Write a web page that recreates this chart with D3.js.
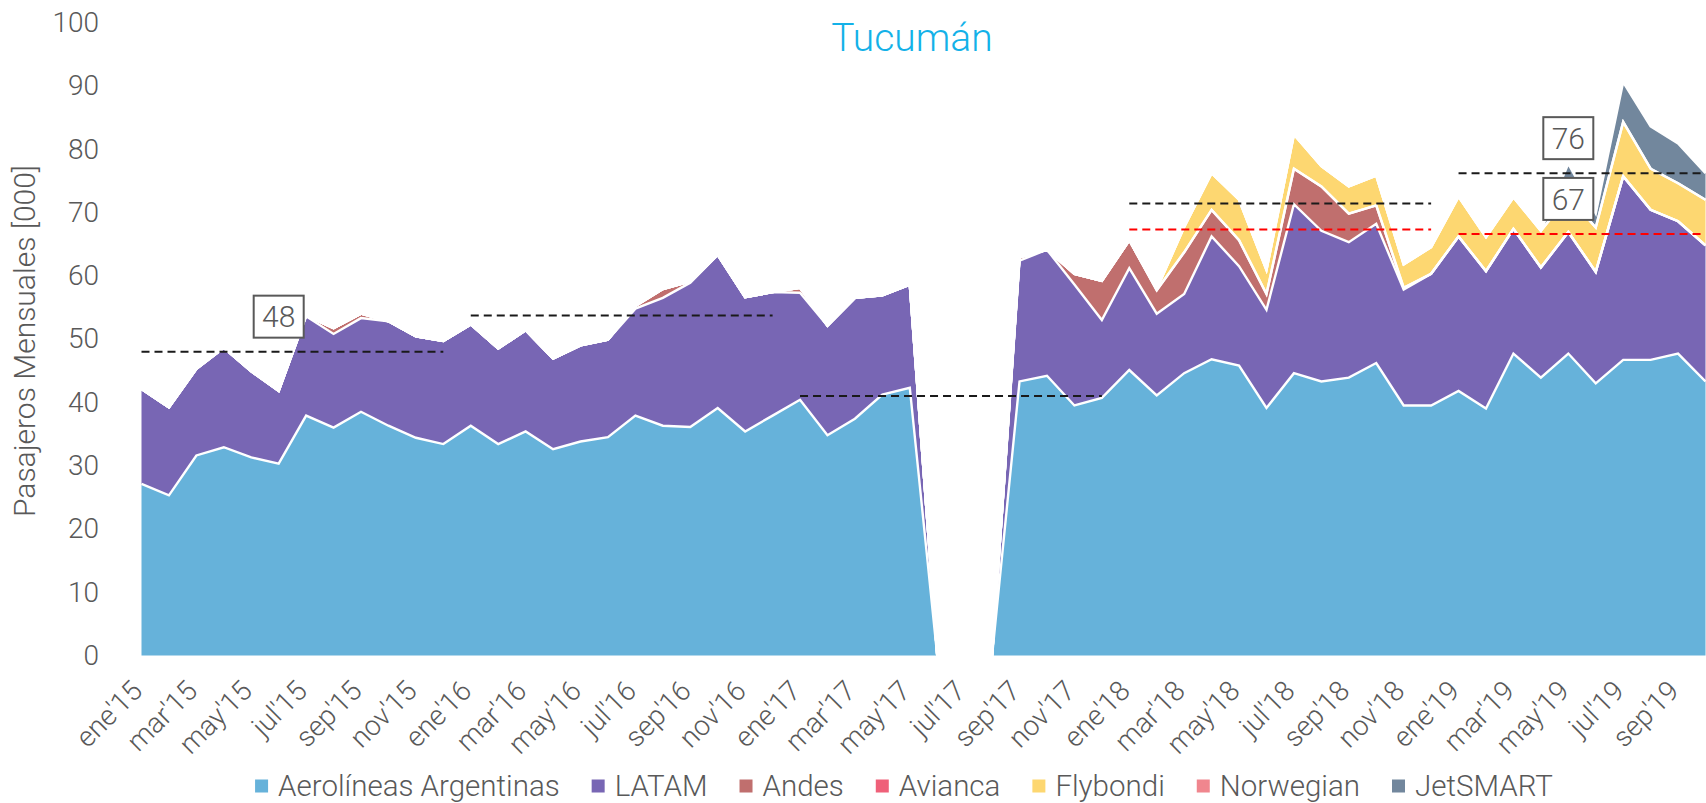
<!DOCTYPE html>
<html>
<head>
<meta charset="utf-8">
<script src="https://cdn.jsdelivr.net/npm/d3@7"></script>
<style>
  body { margin: 0; background: #fff; }
  text { font-family: Roboto, "Open Sans", sans-serif; font-weight: 300; }
</style>
</head>
<body>
<svg id="chart"></svg>
<script>

// meses (ene'15 .. oct'19)
var months = [
  "ene'15","feb'15","mar'15","abr'15","may'15","jun'15","jul'15","ago'15","sep'15","oct'15","nov'15","dic'15",
  "ene'16","feb'16","mar'16","abr'16","may'16","jun'16","jul'16","ago'16","sep'16","oct'16","nov'16","dic'16",
  "ene'17","feb'17","mar'17","abr'17","may'17","jun'17","jul'17","ago'17","sep'17","oct'17","nov'17","dic'17",
  "ene'18","feb'18","mar'18","abr'18","may'18","jun'18","jul'18","ago'18","sep'18","oct'18","nov'18","dic'18",
  "ene'19","feb'19","mar'19","abr'19","may'19","jun'19","jul'19","ago'19","sep'19","oct'19"
];

var airlines = ["Aerolíneas Argentinas", "LATAM", "Andes", "Avianca", "Flybondi", "Norwegian", "JetSMART"];
var colors   = ["#66b2da", "#7866b4", "#c06f6e", "#ef6079", "#fdd771", "#f0868e", "#72879d"];

// pasajeros mensuales [000]
var aerolineas = [27.1, 25.3, 31.6, 32.9, 31.3, 30.3, 37.9, 36.0, 38.5, 36.3, 34.4, 33.4,
                  36.3, 33.4, 35.4, 32.6, 33.8, 34.5, 37.9, 36.3, 36.1, 39.1, 35.4, 37.9,
                  40.4, 34.8, 37.4, 41.2, 42.3, 0, 0, 0, 43.3, 44.2, 39.5, 40.7,
                  45.1, 41.1, 44.6, 46.8, 45.8, 39.1, 44.6, 43.3, 43.9, 46.2, 39.5, 39.5,
                  41.8, 39.0, 47.7, 43.9, 47.7, 43.0, 46.7, 46.7, 47.7, 43.3];
var latam      = [15.0, 13.9, 13.7, 15.7, 13.6, 11.5, 15.7, 14.8, 14.8, 16.5, 16.0, 16.3,
                  16.0, 15.1, 16.0, 14.3, 15.2, 15.4, 16.9, 20.2, 22.8, 24.2, 21.2, 19.5,
                  16.9, 17.3, 19.1, 15.7, 16.3, 0, 0, 0, 19.1, 19.9, 19.1, 12.3,
                  16.1, 12.9, 12.5, 19.4, 15.7, 15.5, 26.7, 23.8, 21.4, 22.0, 18.3, 20.8,
                  24.4, 21.7, 19.7, 17.4, 19.2, 17.6, 29.0, 23.7, 20.9, 21.5];
var andes      = [0, 0, 0, 0, 0, 0, 0.1, 0.9, 0.7, 0, 0, 0,
                  0, 0, 0, 0, 0, 0, 0.4, 1.4, 0.2, 0, 0, 0,
                  0.8, 0, 0, 0, 0, 0, 0, 0, 0.5, 0, 1.7, 6.2,
                  4.4, 3.7, 6.6, 4.2, 4.1, 2.5, 5.6, 7.0, 4.5, 2.9, 0.3, 0,
                  0, 0, 0, 0, 0, 0, 0, 0, 0, 0];
var avianca    = [0, 0, 0, 0, 0, 0, 0, 0, 0, 0, 0, 0,
                  0, 0, 0, 0, 0, 0, 0, 0, 0, 0, 0, 0,
                  0, 0, 0, 0, 0, 0, 0, 0, 0, 0, 0, 0,
                  0, 0, 0, 0, 0, 0, 0, 0, 0, 0, 0, 0,
                  0, 0, 0, 0, 0, 0, 0, 0, 0, 0];
var flybondi   = [0, 0, 0, 0, 0, 0, 0, 0, 0, 0, 0, 0,
                  0, 0, 0, 0, 0, 0, 0, 0, 0, 0, 0, 0,
                  0, 0, 0, 0, 0, 0, 0, 0, 0, 0, 0, 0,
                  0, 0.2, 4.0, 5.8, 6.4, 3.8, 5.4, 3.2, 4.3, 4.7, 3.7, 4.2,
                  6.3, 5.4, 5.0, 5.8, 5.6, 7.0, 8.6, 6.5, 6.0, 7.2];
var norwegian  = [0, 0, 0, 0, 0, 0, 0, 0, 0, 0, 0, 0,
                  0, 0, 0, 0, 0, 0, 0, 0, 0, 0, 0, 0,
                  0, 0, 0, 0, 0, 0, 0, 0, 0, 0, 0, 0,
                  0, 0, 0, 0, 0, 0, 0, 0, 0, 0, 0, 0,
                  0, 0, 0, 0, 0, 0, 0, 0, 0, 0];
var jetsmart   = [0, 0, 0, 0, 0, 0, 0, 0, 0, 0, 0, 0,
                  0, 0, 0, 0, 0, 0, 0, 0, 0, 0, 0, 0,
                  0, 0, 0, 0, 0, 0, 0, 0, 0, 0, 0, 0,
                  0, 0, 0, 0, 0, 0, 0, 0, 0, 0, 0, 0,
                  0, 0, 0, 0, 5.2, 2.2, 6.3, 6.7, 6.3, 4.2];

// promedios anuales (lineas punteadas)
var avgFrom   = [0, 12, 24, 36, 48, 36, 48];
var avgTo     = [11, 23, 35, 47, 57, 47, 57];
var avgValues = [48, 53.7, 41.0, 71.4, 76.2, 67.3, 66.6];
var avgColor  = ["#1a1a1a", "#1a1a1a", "#1a1a1a", "#1a1a1a", "#1a1a1a", "#ff0000", "#ff0000"];
var avgLabelAt = [5, null, null, null, 52, null, 52];

var yTicks = [0, 10, 20, 30, 40, 50, 60, 70, 80, 90, 100];

var w = 1706;
var h = 803;

var series = [aerolineas, latam, andes, avianca, flybondi, norwegian, jetsmart];
var rows = months.map(function(m, i) {
  var r = { i: i };
  airlines.forEach(function(a, k) { r[a] = series[k][i]; });
  return r;
});

var svg = d3.select("#chart")
            .attr("width", w)
            .attr("height", h);

var x = d3.scaleLinear()
          .domain([0, months.length - 1])
          .range([141.5, 1705.5]);

var y = d3.scaleLinear()
          .domain([0, 100])
          .range([655.5, 22.5]);

var stacked = d3.stack().keys(airlines)(rows);

var area = d3.area()
             .x(function(d) { return x(d.data.i); })
             .y0(function(d) { return y(d[0]); })
             .y1(function(d) { return y(d[1]); });

var topLine = d3.line()
                .x(function(d) { return x(d.data.i); })
                .y(function(d) { return y(d[1]); });

svg.selectAll("path.layer")
   .data(stacked)
   .enter()
   .append("path")
   .attr("class", "layer")
   .attr("d", area)
   .attr("fill", function(d, i) { return colors[i]; });

svg.selectAll("path.edge")
   .data(stacked)
   .enter()
   .append("path")
   .attr("class", "edge")
   .attr("d", topLine)
   .attr("fill", "none")
   .attr("stroke", "#fff")
   .attr("stroke-width", 2.4)
   .attr("stroke-linejoin", "miter");

// lineas de promedio
svg.selectAll("line.avg")
   .data(avgValues)
   .enter()
   .append("line")
   .attr("class", "avg")
   .attr("x1", function(d, i) { return x(avgFrom[i]); })
   .attr("x2", function(d, i) { return x(avgTo[i]); })
   .attr("y1", function(d) { return y(d); })
   .attr("y2", function(d) { return y(d); })
   .attr("stroke", function(d, i) { return avgColor[i]; })
   .attr("stroke-width", 2)
   .attr("stroke-dasharray", "8,5");

var labels = svg.selectAll("g.avglabel")
   .data(avgValues.map(function(v, i) { return { v: v, at: avgLabelAt[i] }; })
                  .filter(function(d) { return d.at !== null; }))
   .enter()
   .append("g")
   .attr("class", "avglabel")
   .attr("transform", function(d) {
     return "translate(" + x(d.at) + "," + (y(d.v) - 35) + ")";
   });

labels.append("rect")
      .attr("x", -25)
      .attr("y", -21)
      .attr("width", 50)
      .attr("height", 42)
      .attr("fill", "#fff")
      .attr("stroke", "#595959")
      .attr("stroke-width", 2);

labels.append("text")
      .text(function(d) { return Math.round(d.v); })
      .attr("text-anchor", "middle")
      .attr("dy", "0.36em")
      .attr("font-size", "30px")
      .attr("fill", "#595959");

// ejes
var yAxis = svg.append("g")
   .attr("transform", "translate(99,0)")
   .call(d3.axisLeft(y).tickValues(yTicks).tickSize(0).tickPadding(0));
yAxis.select(".domain").remove();
yAxis.selectAll("text")
     .attr("font-size", "28px")
     .attr("font-family", "Roboto, sans-serif")
     .attr("fill", "#595959");

var xAxis = svg.append("g")
   .attr("transform", "translate(0," + y(0) + ")")
   .call(d3.axisBottom(x)
           .tickValues(d3.range(0, months.length, 2))
           .tickFormat(function(i) { return months[i]; })
           .tickSize(0));
xAxis.select(".domain").remove();
xAxis.selectAll("text")
     .attr("x", 0)
     .attr("y", 0)
     .attr("dy", 0)
     .attr("text-anchor", "end")
     .attr("transform", "translate(2,37) rotate(-45)")
     .attr("font-size", "28px")
     .attr("font-family", "Roboto, sans-serif")
     .attr("fill", "#595959");

svg.append("text")
   .text("Pasajeros Mensuales [000]")
   .attr("transform", "translate(35,341) rotate(-90)")
   .attr("text-anchor", "middle")
   .attr("font-size", "30px")
   .attr("fill", "#595959");

svg.append("text")
   .text("Tucumán")
   .attr("x", 912)
   .attr("y", 51)
   .attr("text-anchor", "middle")
   .attr("font-size", "39px")
   .attr("fill", "#13b1e8");

// leyenda
var legend = svg.append("g");
var items = legend.selectAll("g")
   .data(airlines)
   .enter()
   .append("g");

items.append("rect")
     .attr("width", 13)
     .attr("height", 13)
     .attr("y", -6.5)
     .attr("fill", function(d, i) { return colors[i]; });

items.append("text")
     .text(function(d) { return d; })
     .attr("x", 23)
     .attr("dy", "0.35em")
     .attr("font-size", "29.5px")
     .attr("fill", "#595959");

var gap = 32;
var cx = 0;
items.each(function() {
  var g = d3.select(this);
  g.attr("transform", "translate(" + cx + ",0)");
  cx += 23 + g.select("text").node().getComputedTextLength() + gap;
});
var legendWidth = cx - gap;
legend.attr("transform", "translate(" + (904 - legendWidth / 2) + ",786)");

</script>
</body>
</html>
